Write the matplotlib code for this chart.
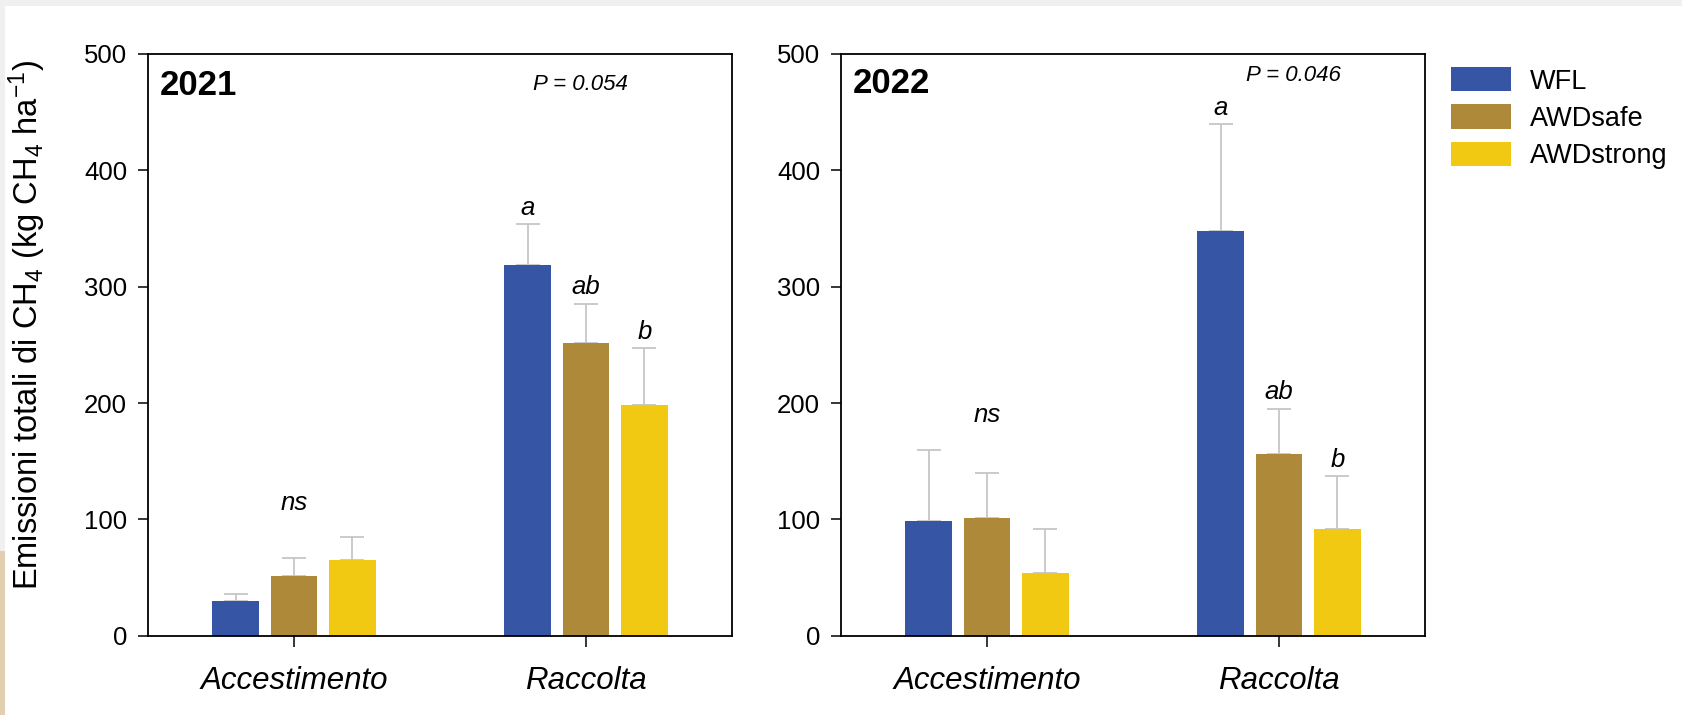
import matplotlib
matplotlib.use("Agg")
import matplotlib.pyplot as plt
from matplotlib.patches import Rectangle, Patch
import numpy as np

plt.rcParams['font.family'] = ['Liberation Sans', 'DejaVu Sans']
plt.rcParams['mathtext.fontset'] = 'custom'
plt.rcParams['mathtext.rm'] = 'Liberation Sans'
plt.rcParams['mathtext.it'] = 'Liberation Sans:italic'

# data
stages = ["Accestimento", "Raccolta"]
treatments = ["WFL", "AWDsafe", "AWDstrong"]
colors = ["#3755a5", "#ae8939", "#f2c912"]

mean_2021 = {"WFL": [29.5, 318.5], "AWDsafe": [51.5, 251.5], "AWDstrong": [65.0, 198.0]}
err_2021 = {"WFL": [6.0, 35.0], "AWDsafe": [15.5, 34.0], "AWDstrong": [19.5, 49.0]}
mean_2022 = {"WFL": [98.5, 347.5], "AWDsafe": [101.5, 156.5], "AWDstrong": [54.0, 92.0]}
err_2022 = {"WFL": [61.0, 92.0], "AWDsafe": [38.0, 38.5], "AWDstrong": [38.0, 45.0]}

letters_2021 = {"WFL": "a", "AWDsafe": "ab", "AWDstrong": "b"}
letters_2022 = {"WFL": "a", "AWDsafe": "ab", "AWDstrong": "b"}
p_2021 = "P = 0.054"
p_2022 = "P = 0.046"

fig = plt.figure(figsize=(16.82, 7.15), dpi=100)
fig.patch.set_facecolor("white")
# page frame from the screenshot
fig.patches.append(Rectangle((0, 1 - 6 / 715), 1, 6 / 715, transform=fig.transFigure,
                             facecolor="#f0f0f0", edgecolor="none", zorder=0))
fig.patches.append(Rectangle((0, 1 - 551 / 715), 5 / 1682, 545 / 715, transform=fig.transFigure,
                             facecolor="#f0f0f0", edgecolor="none", zorder=0))
fig.patches.append(Rectangle((0, 0), 5 / 1682, 1 - 551 / 715, transform=fig.transFigure,
                             facecolor="#e2cfb2", edgecolor="none", zorder=0))

ax1 = fig.add_axes([0.0880, 0.1109, 0.3472, 0.8136])
ax2 = fig.add_axes([0.5000, 0.1109, 0.3472, 0.8136])

x = np.arange(len(stages))
width = 0.16
step = 0.2


def panel(ax, means, errs, letters, year, ptext, pxy, year_y):
    for i, t in enumerate(treatments):
        xs = x + (i - 1) * step
        ax.bar(xs, means[t], width, color=colors[i], zorder=2, label=t)
        ax.errorbar(xs, means[t], yerr=[[0, 0], errs[t]], fmt="none", ecolor="#c6c6c6",
                    elinewidth=1.3, capsize=8.5, capthick=1.3, zorder=1)
        # significance letters for Raccolta
        top = means[t][1] + errs[t][1]
        ax.annotate(letters[t], (xs[1], top), xytext=(0, 7), textcoords="offset points",
                    ha="center", va="baseline", fontsize=18.5, style="italic")
    tops = [means[t][0] + errs[t][0] for t in treatments]
    ax.annotate("ns", (x[0], max(tops)), xytext=(0, 20), textcoords="offset points",
                ha="center", va="baseline", fontsize=18.5, style="italic")
    ax.text(0.02, year_y, year, transform=ax.transAxes, fontsize=25, fontweight="bold",
            ha="left", va="center")
    ax.text(pxy[0], pxy[1], ptext, transform=ax.transAxes, fontsize=16, style="italic",
            ha="center", va="center")
    ax.set_xlim(-0.5, 1.5)
    ax.set_ylim(0, 500)
    ax.set_yticks([0, 100, 200, 300, 400, 500])
    ax.set_xticks(x)
    ax.set_xticklabels(stages, fontsize=22.5, style="italic")
    ax.tick_params(axis="y", labelsize=18.5, length=7, width=1.1, pad=8, direction="out")
    ax.tick_params(axis="x", length=8, width=1.1, pad=14, direction="out")
    for s in ax.spines.values():
        s.set_linewidth(1.3)


panel(ax1, mean_2021, err_2021, letters_2021, "2021", p_2021, (0.74, 0.947), 0.945)
panel(ax2, mean_2022, err_2022, letters_2022, "2022", p_2022, (0.775, 0.963), 0.95)

fig.text(27 / 1682, 0.546, r"Emissioni totali di CH$_4$ (kg CH$_4$ ha$^{-1}$)",
         rotation=90, ha="center", va="center", fontsize=23.5)

handles = [Patch(facecolor=c, edgecolor="none") for c in colors]
fig.legend(handles, treatments, loc="upper left", bbox_to_anchor=(0.8627, 0.906),
           frameon=False, fontsize=19.5, handlelength=2.2, handleheight=1.0,
           handletextpad=0.7, labelspacing=0.36, borderpad=0, borderaxespad=0)

fig.savefig("out.png", dpi=100)
